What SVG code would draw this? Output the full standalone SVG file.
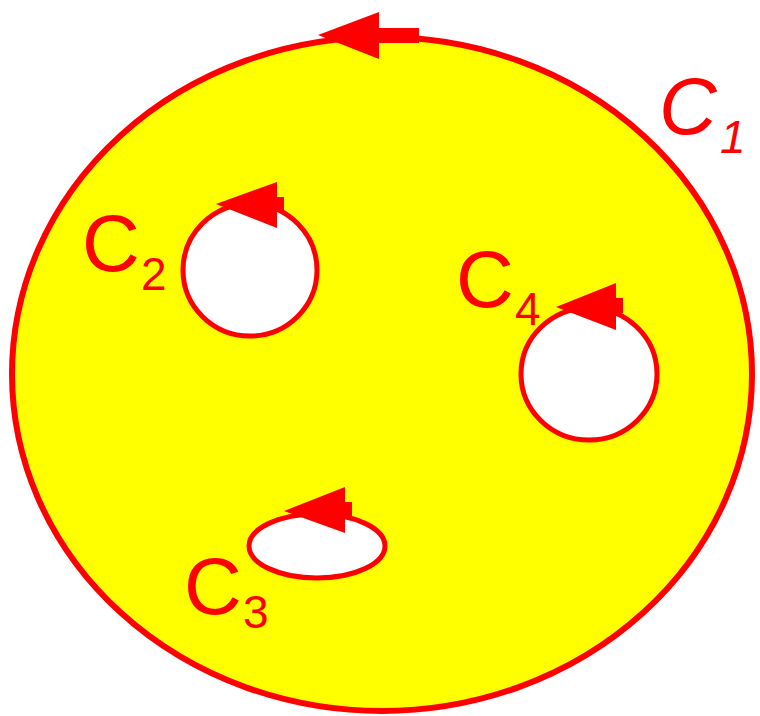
<svg xmlns="http://www.w3.org/2000/svg" width="760" height="716" viewBox="0 0 760 716">
<style>
.loop{fill:#ffffff;stroke:#ff0000;stroke-width:5}
.outer{fill:#ffff00;stroke:#ff0000;stroke-width:6}
.ah{fill:#ff0000;stroke:none}
.lbl{font-family:"Liberation Sans",Arial,sans-serif;fill:#ff0000}
.big{font-size:80px}
.sub{font-size:46px}
.it{font-style:italic}
</style>
<rect width="760" height="716" fill="#ffffff"/>
<g id="C1">
<ellipse class="outer" cx="382" cy="374" rx="370" ry="337"/>
<text class="lbl big it" x="659" y="134">C</text>
<text class="lbl sub it" x="720" y="153">1</text>
</g>
<g id="C2">
<ellipse class="loop" cx="250" cy="270" rx="67" ry="66"/>
<text class="lbl big" x="82" y="271">C</text>
<text class="lbl sub" x="141" y="290">2</text>
</g>
<g id="C4">
<ellipse class="loop" cx="589" cy="374" rx="68" ry="66"/>
<text class="lbl big" x="456" y="307">C</text>
<text class="lbl sub" x="515" y="325">4</text>
</g>
<g id="C3">
<ellipse class="loop" cx="317" cy="546" rx="68" ry="32"/>
<text class="lbl big" x="184" y="614">C</text>
<text class="lbl sub" x="243" y="628">3</text>
</g>
<g id="connectors">
<rect class="ah" x="378" y="28" width="41" height="15"/>
<polygon class="ah" points="318,35 379,12 379,59"/>
<rect class="ah" x="276" y="197" width="8" height="14"/>
<polygon class="ah" points="216,204 277,182 277,228"/>
<rect class="ah" x="615" y="298" width="8" height="15"/>
<polygon class="ah" points="556,307 616,283 616,330"/>
<rect class="ah" x="344" y="502" width="8" height="15"/>
<polygon class="ah" points="284,511 345,487 345,533"/>
</g>
</svg>
